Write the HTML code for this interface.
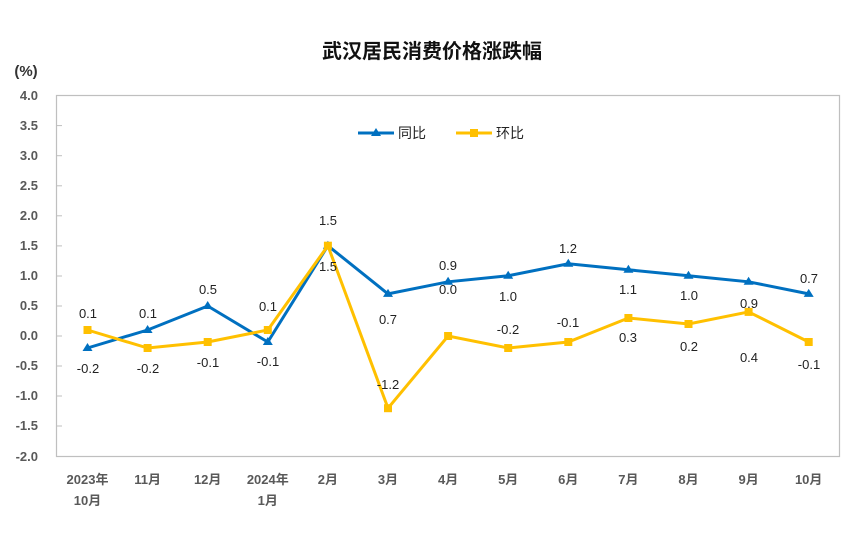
<!DOCTYPE html>
<html><head><meta charset="utf-8"><style>
body{margin:0;background:#fff;}
text{font-family:"Liberation Sans","Noto Sans CJK SC",sans-serif;}
</style></head><body>
<svg width="865" height="532" viewBox="0 0 865 532" xmlns="http://www.w3.org/2000/svg">
<rect width="865" height="532" fill="#fff"/>
<text x="432" y="58" text-anchor="middle" font-size="20" font-weight="bold" fill="#111">武汉居民消费价格涨跌幅</text>
<text x="26" y="76" text-anchor="middle" font-size="15" font-weight="bold" fill="#333">(%)</text>
<rect x="56.5" y="95.5" width="783" height="361" fill="none" stroke="#bfbfbf" stroke-width="1.2"/>
<g stroke="#bfbfbf" stroke-width="1">
<line x1="56" y1="125.6" x2="62" y2="125.6"/><line x1="56" y1="155.7" x2="62" y2="155.7"/><line x1="56" y1="185.8" x2="62" y2="185.8"/><line x1="56" y1="215.8" x2="62" y2="215.8"/><line x1="56" y1="245.9" x2="62" y2="245.9"/><line x1="56" y1="276" x2="62" y2="276"/><line x1="56" y1="306" x2="62" y2="306"/><line x1="56" y1="336" x2="62" y2="336"/><line x1="56" y1="366" x2="62" y2="366"/><line x1="56" y1="396" x2="62" y2="396"/><line x1="56" y1="426" x2="62" y2="426"/>
</g>
<g font-size="13" font-weight="bold" fill="#595959" text-anchor="end">
<text x="38" y="100">4.0</text><text x="38" y="130">3.5</text><text x="38" y="160">3.0</text><text x="38" y="190">2.5</text><text x="38" y="220">2.0</text><text x="38" y="250">1.5</text><text x="38" y="280">1.0</text><text x="38" y="310">0.5</text><text x="38" y="340">0.0</text><text x="38" y="370">-0.5</text><text x="38" y="400">-1.0</text><text x="38" y="430">-1.5</text><text x="38" y="461">-2.0</text>
</g>
<g font-size="13" font-weight="bold" fill="#595959" text-anchor="middle">
<text x="87.5" y="484">2023年</text><text x="87.5" y="505">10月</text>
<text x="147.6" y="484">11月</text><text x="207.7" y="484">12月</text>
<text x="267.8" y="484">2024年</text><text x="267.8" y="505">1月</text>
<text x="327.9" y="484">2月</text><text x="388" y="484">3月</text><text x="448.1" y="484">4月</text><text x="508.2" y="484">5月</text><text x="568.3" y="484">6月</text><text x="628.4" y="484">7月</text><text x="688.5" y="484">8月</text><text x="748.6" y="484">9月</text><text x="808.7" y="484">10月</text>
</g>
<polyline fill="none" stroke="#0070c0" stroke-width="3" points="87.5,348 147.6,330 207.7,306 267.8,342 327.9,245.7 388,293.9 448.1,281.8 508.2,275.8 568.3,263.8 628.4,269.8 688.5,275.8 748.6,281.8 808.7,293.9"/>
<g fill="#0070c0">
<path d="M87.5,343l5,8h-10z"/><path d="M147.6,325l5,8h-10z"/><path d="M207.7,301l5,8h-10z"/><path d="M267.8,337l5,8h-10z"/><path d="M327.9,240.7l5,8h-10z"/><path d="M388,288.9l5,8h-10z"/><path d="M448.1,276.8l5,8h-10z"/><path d="M508.2,270.8l5,8h-10z"/><path d="M568.3,258.8l5,8h-10z"/><path d="M628.4,264.8l5,8h-10z"/><path d="M688.5,270.8l5,8h-10z"/><path d="M748.6,276.8l5,8h-10z"/><path d="M808.7,288.9l5,8h-10z"/>
</g>
<polyline fill="none" stroke="#ffc000" stroke-width="3" points="87.5,330 147.6,348 207.7,342 267.8,330 327.9,245.7 388,408.2 448.1,336 508.2,348 568.3,342 628.4,318 688.5,324 748.6,311.9 808.7,342"/>
<g fill="#ffc000">
<rect x="83.5" y="326" width="8" height="8"/><rect x="143.6" y="344" width="8" height="8"/><rect x="203.7" y="338" width="8" height="8"/><rect x="263.8" y="326" width="8" height="8"/><rect x="323.9" y="241.7" width="8" height="8"/><rect x="384" y="404.2" width="8" height="8"/><rect x="444.1" y="332" width="8" height="8"/><rect x="504.2" y="344" width="8" height="8"/><rect x="564.3" y="338" width="8" height="8"/><rect x="624.4" y="314" width="8" height="8"/><rect x="684.5" y="320" width="8" height="8"/><rect x="744.6" y="307.9" width="8" height="8"/><rect x="804.7" y="338" width="8" height="8"/>
</g>
<g font-size="13" fill="#222" text-anchor="middle">
<text x="88" y="373">-0.2</text><text x="148" y="318">0.1</text><text x="208" y="294">0.5</text><text x="268" y="366">-0.1</text><text x="328" y="225">1.5</text><text x="388" y="324">0.7</text><text x="448" y="270">0.9</text><text x="508" y="301">1.0</text><text x="568" y="253">1.2</text><text x="628" y="294">1.1</text><text x="689" y="300">1.0</text><text x="749" y="308">0.9</text><text x="809" y="283">0.7</text>
<text x="88" y="318">0.1</text><text x="148" y="373">-0.2</text><text x="208" y="367">-0.1</text><text x="268" y="311">0.1</text><text x="328" y="271">1.5</text><text x="388" y="389">-1.2</text><text x="448" y="294">0.0</text><text x="508" y="334">-0.2</text><text x="568" y="327">-0.1</text><text x="628" y="342">0.3</text><text x="689" y="351">0.2</text><text x="749" y="362">0.4</text><text x="809" y="369">-0.1</text>
</g>
<line x1="358" y1="133" x2="394" y2="133" stroke="#0070c0" stroke-width="3"/>
<path d="M376,128l5,8h-10z" fill="#0070c0"/>
<text x="398" y="138" font-size="14" fill="#222">同比</text>
<line x1="456" y1="133" x2="492" y2="133" stroke="#ffc000" stroke-width="3"/>
<rect x="470" y="129" width="8" height="8" fill="#ffc000"/>
<text x="496" y="138" font-size="14" fill="#222">环比</text>
</svg>
</body></html>
